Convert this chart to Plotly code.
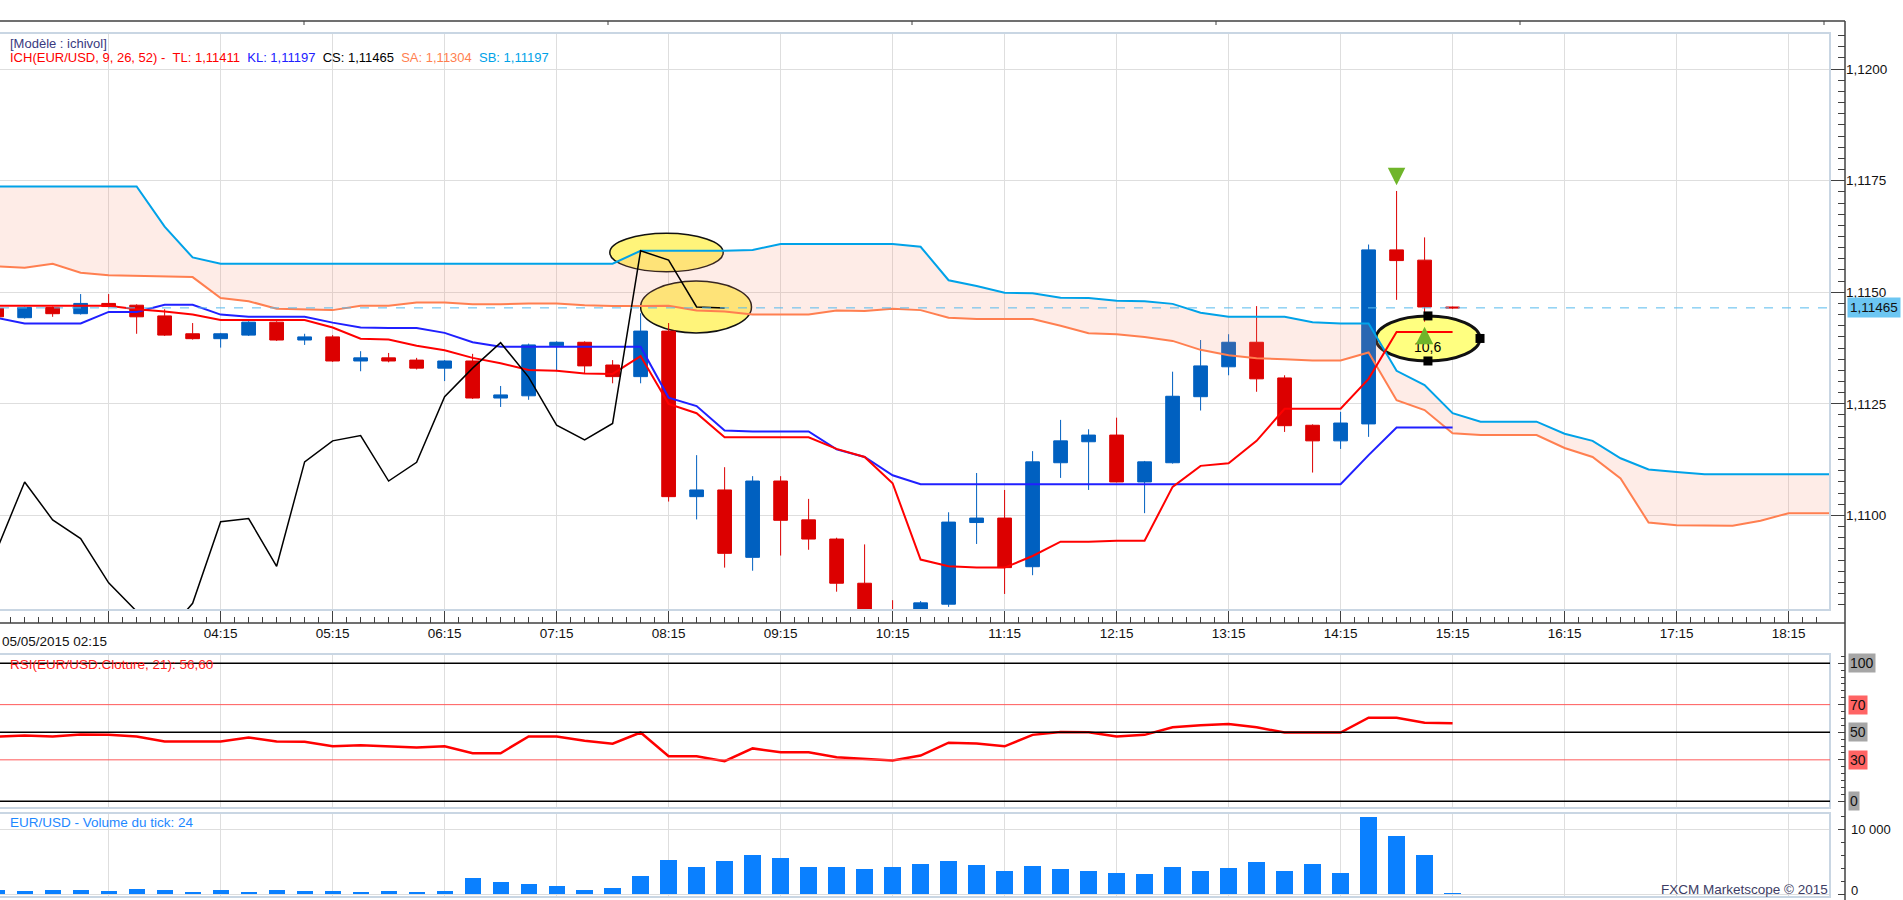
import pandas as pd
import plotly.graph_objects as go

W, H = 1903, 900

# 15 minute bars, 05/05/2015 (cloud is projected 26 bars ahead)
start = "2015-05-05 02:15"
times = pd.date_range(start, periods=67, freq="15min")

bar_open = [1.11464, 1.11443, 1.11466, 1.11452, 1.11475, 1.11471, 1.11447, 1.11407, 1.11396, 1.11404,
            1.11433, 1.11393, 1.11400, 1.11346, 1.11353, 1.11348, 1.11330, 1.11346, 1.11263, 1.11268,
            1.11380, 1.11388, 1.11337, 1.11311, 1.11413, 1.11042, 1.11057, 1.10906, 1.11077, 1.10990,
            1.10947, 1.10848, 1.10785, 1.10730, 1.10801, 1.10984, 1.10994, 1.10885, 1.11118, 1.11165,
            1.11180, 1.11075, 1.11118, 1.11266, 1.11333, 1.11388, 1.11308, 1.11202, 1.11167, 1.11205,
            1.11595, 1.11572, 1.11467]
bar_high = [1.11470, 1.11468, 1.11468, 1.11496, 1.11496, 1.11473, 1.11462, 1.11431, 1.11409, 1.11435,
            1.11435, 1.11407, 1.11404, 1.11368, 1.11364, 1.11353, 1.11348, 1.11362, 1.11290, 1.11385,
            1.11390, 1.11390, 1.11348, 1.11453, 1.11431, 1.11135, 1.11108, 1.11088, 1.11088, 1.11037,
            1.10950, 1.10935, 1.10810, 1.10808, 1.11007, 1.11095, 1.11057, 1.11144, 1.11214, 1.11193,
            1.11219, 1.11122, 1.11322, 1.11393, 1.11406, 1.11469, 1.11314, 1.11204, 1.11232, 1.11607,
            1.11727, 1.11623, 1.11468]
bar_low = [1.11440, 1.11441, 1.11445, 1.11450, 1.11466, 1.11407, 1.11402, 1.11394, 1.11376, 1.11402,
           1.11391, 1.11382, 1.11344, 1.11323, 1.11343, 1.11327, 1.11301, 1.11261, 1.11243, 1.11259,
           1.11323, 1.11318, 1.11296, 1.11296, 1.11031, 1.10991, 1.10883, 1.10876, 1.10910, 1.10923,
           1.10829, 1.10770, 1.10715, 1.10720, 1.10795, 1.10936, 1.10824, 1.10866, 1.11084, 1.11057,
           1.11074, 1.11005, 1.11116, 1.11235, 1.11314, 1.11277, 1.11187, 1.11096, 1.11149, 1.11176,
           1.11483, 1.11434, 1.11463]
bar_close = [1.11445, 1.11466, 1.11452, 1.11475, 1.11468, 1.11445, 1.11404, 1.11396, 1.11407, 1.11433,
             1.11393, 1.11400, 1.11346, 1.11353, 1.11346, 1.11330, 1.11346, 1.11263, 1.11270, 1.11382,
             1.11388, 1.11335, 1.11311, 1.11413, 1.11042, 1.11057, 1.10915, 1.11077, 1.10989, 1.10947,
             1.10848, 1.10785, 1.10730, 1.10804, 1.10985, 1.10994, 1.10883, 1.11120, 1.11167, 1.11180,
             1.11075, 1.11120, 1.11267, 1.11335, 1.11388, 1.11306, 1.11201, 1.11167, 1.11207, 1.11595,
             1.11571, 1.11467, 1.11465]

# Ichimoku lines
tenkan = [1.11470, 1.11470, 1.11470, 1.11470, 1.11470, 1.11462, 1.11457, 1.11450, 1.11438, 1.11438,
          1.11438, 1.11438, 1.11421, 1.11396, 1.11394, 1.11380, 1.11370, 1.11353, 1.11341, 1.11326,
          1.11324, 1.11318, 1.11317, 1.11357, 1.11250, 1.11229, 1.11175, 1.11175, 1.11175, 1.11175,
          1.11149, 1.11131, 1.11072, 1.10901, 1.10886, 1.10883, 1.10883, 1.10909, 1.10941, 1.10941,
          1.10943, 1.10943, 1.11064, 1.11111, 1.11117, 1.11167, 1.11239, 1.11239, 1.11239, 1.11306,
          1.11411, 1.11411, 1.11411]
kijun = [1.11443, 1.11430, 1.11430, 1.11430, 1.11456, 1.11456, 1.11472, 1.11472, 1.11450, 1.11445,
         1.11445, 1.11445, 1.11432, 1.11421, 1.11420, 1.11420, 1.11409, 1.11388, 1.11378, 1.11378,
         1.11378, 1.11378, 1.11378, 1.11378, 1.11264, 1.11245, 1.11190, 1.11188, 1.11188, 1.11188,
         1.11148, 1.11131, 1.11090, 1.11070, 1.11070, 1.11070, 1.11070, 1.11070, 1.11070, 1.11070,
         1.11070, 1.11070, 1.11070, 1.11070, 1.11070, 1.11070, 1.11070, 1.11070, 1.11070, 1.11135,
         1.11197, 1.11197, 1.11197]
chikou = [1.10922, 1.11075, 1.10990, 1.10948, 1.10849, 1.10785, 1.10730, 1.10803, 1.10986, 1.10993,
          1.10886, 1.11120, 1.11167, 1.11179, 1.11077, 1.11119, 1.11266, 1.11330, 1.11387, 1.11310,
          1.11202, 1.11169, 1.11206, 1.11593, 1.11572, 1.11467, 1.11465]
senkou_a = [1.11558, 1.11555, 1.11564, 1.11544, 1.11538, 1.11537, 1.11536, 1.11534, 1.11487, 1.11480,
            1.11463, 1.11462, 1.11460, 1.11470, 1.11470, 1.11477, 1.11477, 1.11473, 1.11473, 1.11475,
            1.11475, 1.11471, 1.11469, 1.11469, 1.11470, 1.11459, 1.11457, 1.11450, 1.11450, 1.11450,
            1.11459, 1.11458, 1.11463, 1.11460, 1.11443, 1.11440, 1.11440, 1.11440, 1.11425, 1.11408,
            1.11406, 1.11400, 1.11391, 1.11371, 1.11359, 1.11352, 1.11350, 1.11347, 1.11347, 1.11365,
            1.11258, 1.11236, 1.11184, 1.11180, 1.11180, 1.11180, 1.11151, 1.11131, 1.11083, 1.10984,
            1.10978, 1.10977, 1.10977, 1.10988, 1.11005, 1.11005, 1.11005]
senkou_b = [1.11737, 1.11737, 1.11737, 1.11737, 1.11737, 1.11737, 1.11647, 1.11578, 1.11564, 1.11564,
            1.11564, 1.11564, 1.11564, 1.11564, 1.11564, 1.11564, 1.11564, 1.11564, 1.11564, 1.11564,
            1.11564, 1.11564, 1.11564, 1.11593, 1.11593, 1.11593, 1.11593, 1.11595, 1.11608, 1.11608,
            1.11608, 1.11608, 1.11608, 1.11602, 1.11527, 1.11514, 1.11499, 1.11498, 1.11488, 1.11487,
            1.11481, 1.11480, 1.11474, 1.11454, 1.11445, 1.11445, 1.11445, 1.11433, 1.11430, 1.11430,
            1.11324, 1.11292, 1.11229, 1.11210, 1.11210, 1.11210, 1.11183, 1.11167, 1.11128, 1.11103,
            1.11097, 1.11092, 1.11092, 1.11092, 1.11092, 1.11092, 1.11092]
sb_current = 1.11197

rsi = [46.9, 47.6, 46.9, 48.3, 48.1, 46.9, 43.3, 43.3, 43.3, 46.2,
       43.3, 43.1, 39.8, 40.5, 39.8, 39.0, 39.8, 34.8, 34.8, 46.9,
       46.9, 43.8, 41.7, 49.8, 32.6, 32.6, 29.0, 38.3, 35.5, 35.5,
       31.9, 30.7, 29.5, 33.1, 42.4, 41.9, 39.8, 48.1, 50.2, 50.0,
       46.9, 48.1, 53.6, 55.0, 56.0, 53.6, 49.8, 49.8, 49.8, 60.5,
       60.5, 56.9, 56.6]
rsi_levels = [0, 30, 50, 70, 100]

volume = [620, 460, 620, 620, 460, 770, 620, 310, 620, 310,
          620, 460, 460, 310, 460, 310, 460, 2470, 1860, 1550,
          1240, 620, 930, 2780, 5260, 4180, 5100, 6030, 5570, 4180,
          4180, 3870, 4180, 4640, 5100, 4480, 3550, 4330, 3860, 3550,
          3240, 3090, 4170, 3550, 4020, 4940, 3550, 4640, 3240, 11900,
          8960, 6030, 24]
volume_ticks = [0, 10000]

# signal arrows (tip price, direction)
signal_times = ["2015-05-05 14:45", "2015-05-05 15:00"]
signal_tips = [1.11740, 1.11423]
signal_down = [True, False]

# drawn ellipses: x0, x1, y0, y1
ellipses = [
    ("2015-05-05 07:43:30", "2015-05-05 08:44:15", 1.11546, 1.11632),
    ("2015-05-05 08:00:00", "2015-05-05 08:59:24", 1.11409, 1.11525),
    ("2015-05-05 14:33:54", "2015-05-05 15:29:42", 1.11346, 1.11447),
]
ellipse_label = "10,6"

hours = pd.date_range("2015-05-05 03:15", "2015-05-05 18:15", freq="1h")
hour_text = ["" if h.hour == 3 else h.strftime("%H:%M") for h in hours]

x_range = ["2015-05-05 02:16:48", "2015-05-05 18:37:12"]
main_range = [1.10788, 1.12081]
rsi_range = [-4.9, 106.7]
vol_range = [-464, 12520]


def px_x(x):
    return x / W


def px_y(y):
    return 1 - y / H


def fr(v, d=5):
    return f"{v:.{d}f}".replace(".", ",")


FONT = "Liberation Sans, Arial, sans-serif"
GRID = "#dedede"
AXC = "#404040"
FRAME = "#c9d6e3"
SP = "&nbsp;&nbsp;"

fig = go.Figure()

n = len(bar_close)
fig.add_trace(go.Candlestick(
    x=times[:n], open=bar_open, high=bar_high, low=bar_low, close=bar_close,
    increasing=dict(line=dict(color="#0060c0", width=1), fillcolor="#0060c0"),
    decreasing=dict(line=dict(color="#dc0000", width=1), fillcolor="#dc0000"),
    whiskerwidth=0, hoverinfo="skip"))

# cloud
fig.add_trace(go.Scatter(x=times, y=senkou_b, mode="lines",
                         line=dict(color="#00a2e8", width=2)))
fig.add_trace(go.Scatter(x=times, y=senkou_a, mode="lines", fill="tonexty",
                         fillcolor="rgba(250,140,110,0.17)",
                         line=dict(color="#ff7f50", width=2)))
fig.add_trace(go.Scatter(x=times[:n], y=kijun, mode="lines",
                         line=dict(color="#2020ff", width=2)))
fig.add_trace(go.Scatter(x=times[:n], y=tenkan, mode="lines",
                         line=dict(color="#ff0000", width=2)))
fig.add_trace(go.Scatter(x=times[:len(chikou)], y=chikou, mode="lines",
                         line=dict(color="#000000", width=1.5)))

# ellipses
for i, (ex0, ex1, ey0, ey1) in enumerate(ellipses):
    last = i == len(ellipses) - 1
    fig.add_shape(type="circle", xref="x", yref="y", x0=ex0, x1=ex1, y0=ey0, y1=ey1,
                  fillcolor="#fff47a" if not last else "#ffff80",
                  line=dict(color="#111111", width=3 if last else 1.5), layer="between")

ex0, ex1, ey0, ey1 = ellipses[-1]
cx = pd.Timestamp(ex0) + (pd.Timestamp(ex1) - pd.Timestamp(ex0)) / 2
cy = (ey0 + ey1) / 2
fig.add_trace(go.Scatter(x=[cx, cx, pd.Timestamp(ex1)], y=[ey1, ey0, cy], mode="markers",
                         marker=dict(symbol="square", size=9, color="#000000")))
fig.add_annotation(x=cx, y=cy - (ey1 - ey0) * 0.18, xref="x", yref="y", text=ellipse_label,
                   showarrow=False, font=dict(size=14, color="#000000", family=FONT))

# green signal arrows
for st, sp, down in zip(signal_times, signal_tips, signal_down):
    fig.add_annotation(x=st, y=sp, xref="x", yref="y", text="", showarrow=True,
                       ax=0, ay=-18 if down else 18, arrowhead=2, arrowsize=0.7,
                       arrowwidth=5, arrowcolor="#6fb52a", standoff=0)

# RSI
fig.add_trace(go.Scatter(x=times[:n], y=rsi, mode="lines", xaxis="x2", yaxis="y2",
                         line=dict(color="#ff0000", width=2.5)))

# Volume
fig.add_trace(go.Bar(x=times[:n], y=volume, xaxis="x3", yaxis="y3",
                     width=15 * 60 * 1000 * 0.58, marker=dict(color="#0a80ff", line=dict(width=0))))

x_dom = [0, px_x(1830)]
main_dom = [px_y(610), px_y(33)]
rsi_dom = [px_y(808), px_y(654)]
vol_dom = [px_y(897), px_y(813)]
ypos = px_x(1845)

xgrid = dict(type="date", range=x_range, domain=x_dom, tickvals=hours, showgrid=True,
             gridcolor=GRID, gridwidth=1, zeroline=False, showline=False)

fig.update_layout(
    width=W, height=H, margin=dict(l=0, r=0, t=0, b=0),
    paper_bgcolor="white", plot_bgcolor="white", showlegend=False,
    separators=", ", bargap=0,
    font=dict(family=FONT, size=13, color="#000000"),
    xaxis=dict(**xgrid, anchor="free", position=px_y(623), ticktext=hour_text,
               ticks="inside", ticklen=12, tickcolor=AXC, tickwidth=1,
               tickfont=dict(size=13.5, color="#111111"),
               minor=dict(dtick=7.5 * 60 * 1000, tick0=start, ticks="inside", ticklen=6,
                          tickcolor=AXC, showgrid=False),
               rangeslider=dict(visible=False)),
    xaxis2=dict(**xgrid, anchor="y2", matches="x", showticklabels=False, ticks=""),
    xaxis3=dict(**xgrid, anchor="y3", matches="x", showticklabels=False, ticks=""),
    yaxis=dict(domain=main_dom, range=main_range, anchor="free", position=ypos, side="right",
               tick0=1.1, dtick=0.0025, tickformat=".4f", ticks="inside", ticklen=14,
               tickcolor=AXC, showgrid=True, gridcolor=GRID, zeroline=False, showline=False,
               tickfont=dict(size=13.5, color="#111111"),
               minor=dict(dtick=0.00025, ticks="inside", ticklen=7, tickcolor=AXC, showgrid=False)),
    yaxis2=dict(domain=rsi_dom, range=rsi_range, anchor="free", position=ypos, side="right",
                tickvals=rsi_levels, showticklabels=False, ticks="inside", ticklen=7, tickcolor=AXC,
                showgrid=False, zeroline=False, showline=False,
                minor=dict(dtick=5, ticks="inside", ticklen=4, tickcolor=AXC, showgrid=False)),
    yaxis3=dict(domain=vol_dom, range=vol_range, anchor="free", position=ypos, side="right",
                tickvals=volume_ticks, showticklabels=False, ticks="inside", ticklen=7,
                tickcolor=AXC, showgrid=True, gridcolor=GRID, zeroline=False, showline=False,
                minor=dict(dtick=2000, ticks="inside", ticklen=4, tickcolor=AXC, showgrid=False)),
)

# panel frames
for dom in (main_dom, rsi_dom, vol_dom):
    fig.add_shape(type="rect", xref="paper", yref="paper", x0=-0.01, x1=x_dom[1],
                  y0=dom[0], y1=dom[1], line=dict(color=FRAME, width=2), layer="above")

# window chrome: top rule, shared price axis line, time axis line
fig.add_shape(type="line", xref="paper", yref="paper", x0=0, x1=ypos, y0=px_y(21), y1=px_y(21),
              line=dict(color=AXC, width=1.5))
for k in range(1, 7):
    fig.add_shape(type="line", xref="paper", yref="paper", x0=px_x(304 * k), x1=px_x(304 * k),
                  y0=px_y(21), y1=px_y(25), line=dict(color=AXC, width=1))
fig.add_shape(type="line", xref="paper", yref="paper", x0=ypos, x1=ypos, y0=0, y1=px_y(21),
              line=dict(color=AXC, width=1.5))
fig.add_shape(type="line", xref="paper", yref="paper", x0=0, x1=ypos, y0=px_y(623), y1=px_y(623),
              line=dict(color=AXC, width=1.5))

# current price line
fig.add_shape(type="line", xref="x domain", yref="y", x0=0, x1=1, y0=bar_close[-1], y1=bar_close[-1],
              line=dict(color="#55bbee", width=1, dash="dash"))

# RSI levels
level_colors = {0: "#000000", 30: "#ff5a5a", 50: "#000000", 70: "#ff5a5a", 100: "#000000"}
level_bg = {0: "#a6a6a6", 30: "#ff6464", 50: "#a6a6a6", 70: "#ff6464", 100: "#a6a6a6"}
for lv in rsi_levels:
    fig.add_shape(type="line", xref="x2 domain", yref="y2", x0=0, x1=1, y0=lv, y1=lv,
                  line=dict(color=level_colors[lv], width=1.5 if level_colors[lv] == "#000000" else 1))
    fig.add_annotation(x=px_x(1848), y=lv, xref="paper", yref="y2", xanchor="left", yanchor="middle",
                       text=str(lv), showarrow=False, bgcolor=level_bg[lv], borderpad=1,
                       font=dict(size=14, color="#111111", family=FONT))

# volume axis labels (the zero label sits on the window's bottom edge)
for vt in volume_ticks:
    fig.add_annotation(x=px_x(1849), y=vt, xref="paper", yref="y3", xanchor="left",
                       yanchor="middle", showarrow=False, text=f"{vt:,d}".replace(",", " "),
                       yshift=4 if vt == 0 else 0,
                       font=dict(size=13, color="#111111", family=FONT))

# texts
tl, kl = tenkan[-1], kijun[-1]
sa_now = (tl + kl) / 2
fig.add_annotation(x=px_x(8), y=px_y(44), xref="paper", yref="paper", xanchor="left",
                   yanchor="middle", showarrow=False, text="[Modèle : ichivol]",
                   font=dict(size=13, color="#3a3a80", family=FONT))
legend = (f"<span style='color:#ff0000'>ICH(EUR/USD, 9, 26, 52) -{SP}TL: {fr(tl)}</span>{SP}"
          f"<span style='color:#2020ff'>KL: {fr(kl)}</span>{SP}"
          f"<span style='color:#000000'>CS: {fr(chikou[-1])}</span>{SP}"
          f"<span style='color:#ff7f50'>SA: {fr(sa_now)}</span>{SP}"
          f"<span style='color:#00a2e8'>SB: {fr(sb_current)}</span>")
fig.add_annotation(x=px_x(8), y=px_y(58), xref="paper", yref="paper", xanchor="left",
                   yanchor="middle", showarrow=False, text=legend, font=dict(size=13, family=FONT))
fig.add_annotation(x=0, y=px_y(641), xref="paper", yref="paper", xanchor="left", yanchor="middle",
                   showarrow=False, text=times[0].strftime("%d/%m/%Y %H:%M"),
                   font=dict(size=13.5, color="#111111", family=FONT))
fig.add_annotation(x=px_x(1847), y=bar_close[-1], xref="paper", yref="y", xanchor="left",
                   yanchor="middle", showarrow=False, text=fr(bar_close[-1]), bgcolor="#6cc6f2",
                   borderpad=2, font=dict(size=13.5, color="#111111", family=FONT))
fig.add_annotation(x=px_x(8), y=px_y(664), xref="paper", yref="paper", xanchor="left",
                   yanchor="middle", showarrow=False,
                   text=f"RSI(EUR/USD.Cloture, 21): {fr(rsi[-1], 2)}",
                   font=dict(size=13.5, color="#ff2020", family=FONT))
fig.add_annotation(x=px_x(8), y=px_y(822), xref="paper", yref="paper", xanchor="left",
                   yanchor="middle", showarrow=False,
                   text=f"EUR/USD - Volume du tick: {volume[-1]}",
                   font=dict(size=13.5, color="#1e88ff", family=FONT))
fig.add_annotation(x=px_x(1830), y=px_y(889), xref="paper", yref="paper", xanchor="right",
                   yanchor="middle", showarrow=False, text="FXCM Marketscope © 2015",
                   font=dict(size=13.5, color="#3c3c64", family=FONT))

fig.write_html("out.html", config={"displayModeBar": False},
               post_script="document.body.style.margin='0';document.body.style.overflow='hidden';")
